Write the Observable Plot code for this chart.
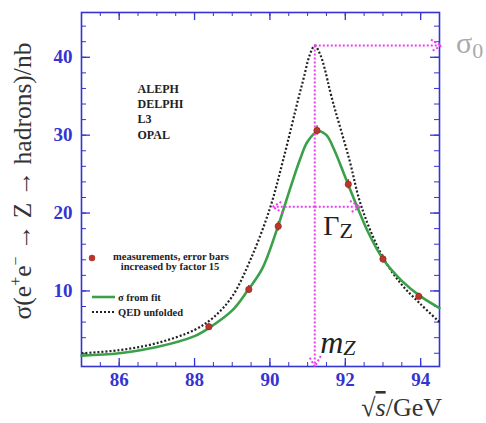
<!DOCTYPE html>
<html><head><meta charset="utf-8">
<script src="https://cdn.jsdelivr.net/npm/d3@7"></script>
<script src="https://cdn.jsdelivr.net/npm/@observablehq/plot@0.6"></script>
<style>body{margin:0;background:#fff;overflow:hidden}</style>
</head><body><div id="chart"></div>
<script>
// measurements (sqrt(s) in GeV, sigma in nb, error bars x15)
const measE     = [88.38, 89.44, 90.22, 91.25, 92.08, 93.0, 93.95];
const measSigma = [5.4, 10.2, 18.3, 30.6, 23.7, 14.1, 9.3];
const measErr   = [0.4, 0.5, 0.6, 0.6, 0.6, 0.5, 0.4];
// sigma from fit (green)
const fitE     = [85.0, 86.0, 87.0, 88.0, 88.4, 89.0, 89.4, 89.8, 90.2, 90.5, 90.8, 91.0, 91.28, 91.5, 91.7, 92.0, 92.3, 92.6, 93.0, 93.5, 94.0, 94.5];
const fitSigma = [1.7, 2.0, 2.8, 4.2, 5.3, 7.5, 10.0, 12.9, 18.1, 22.6, 26.9, 29.2, 30.5, 30.0, 28.2, 24.6, 21.0, 17.6, 14.1, 11.3, 9.3, 7.8];
// QED unfolded (black dotted)
const qedE     = [85.0, 86.0, 87.0, 88.0, 88.5, 89.0, 89.5, 90.0, 90.35, 90.75, 90.9, 91.05, 91.19, 91.33, 91.45, 91.63, 92.1, 92.43, 93.0, 93.5, 94.0, 94.5];
const qedSigma = [2.0, 2.4, 3.3, 5.0, 6.6, 9.3, 14.2, 20.6, 26.8, 34.6, 37.4, 40.2, 41.5, 40.4, 38.6, 35.0, 27.0, 20.8, 14.3, 10.8, 8.3, 6.0];
// annotation values
const mZ = 91.19, sigma0 = 41.5, halfMax = 20.8, gammaLo = 90.07, gammaHi = 92.40;
const xDomain = [85, 94.5], yDomain = [0.3, 45.75];
const xLabelTicks = [86, 88, 90, 92, 94];
const xMinorTicks = d3.range(85.5, 94.5, 0.5);
const yLabelTicks = [10, 20, 30, 40];
const yMinorTicks = d3.range(2, 45, 2);
const experiments = ["ALEPH", "DELPHI", "L3", "OPAL"];

const blue = "#3434d0", mag = "#f03cf0", green = "#3aa04a", red = "#b8362c";
const W = 486, H = 423, mL = 81, mR = 47, mT = 12, mB = 57;
const fw = W - mL - mR, fh = H - mT - mB;
const idx = d3.range(measE.length);
const fi = d3.range(fitE.length), qi = d3.range(qedE.length);
const dash = {strokeDasharray: "2,2", strokeLinecap: "butt"};

const plot = Plot.plot({
  width: W, height: H,
  marginLeft: mL, marginRight: mR, marginTop: mT, marginBottom: mB,
  x: {domain: xDomain},
  y: {domain: yDomain},
  style: {fontFamily: "Liberation Serif", background: "white", overflow: "visible"},
  marks: [
    // inward ticks on all four sides
    Plot.ruleX(xMinorTicks, {x: d => d, insetTop: fh - 4, stroke: blue}),
    Plot.ruleX(xMinorTicks, {x: d => d, insetBottom: fh - 4, stroke: blue}),
    Plot.ruleX(xLabelTicks, {x: d => d, insetTop: fh - 8, stroke: blue, strokeWidth: 1.3}),
    Plot.ruleX(xLabelTicks, {x: d => d, insetBottom: fh - 8, stroke: blue, strokeWidth: 1.3}),
    Plot.ruleY(yMinorTicks, {y: d => d, insetRight: fw - 5, stroke: blue}),
    Plot.ruleY(yMinorTicks, {y: d => d, insetLeft: fw - 5, stroke: blue}),
    Plot.ruleY(yLabelTicks, {y: d => d, insetRight: fw - 9, stroke: blue, strokeWidth: 1.3}),
    Plot.ruleY(yLabelTicks, {y: d => d, insetLeft: fw - 9, stroke: blue, strokeWidth: 1.3}),
    // tick labels
    Plot.axisX({anchor: "bottom", ticks: xLabelTicks, tickSize: 0, tickPadding: 6, label: null,
      fontSize: 19, fontWeight: "bold", color: blue, tickFormat: d3.format("d")}),
    Plot.axisY({anchor: "left", ticks: yLabelTicks, tickSize: 0, tickPadding: 9, label: null,
      fontSize: 19, fontWeight: "bold", color: blue, tickFormat: d3.format("d")}),
    Plot.frame({stroke: blue, strokeWidth: 1.6}),
    // curves
    Plot.line(qi, {x: i => qedE[i], y: i => qedSigma[i], curve: "catmull-rom",
      stroke: "#222", strokeWidth: 2.2, ...dash}),
    Plot.line(fi, {x: i => fitE[i], y: i => fitSigma[i], curve: "catmull-rom",
      stroke: green, strokeWidth: 2.6}),
    // annotation arrows
    Plot.arrow([0], {x1: () => mZ, y1: () => sigma0, x2: () => xDomain[1] + 0.05, y2: () => sigma0,
      stroke: mag, strokeWidth: 2, headLength: 9, ...dash}),
    Plot.arrow([0], {x1: () => mZ, y1: () => sigma0, x2: () => mZ, y2: () => yDomain[0],
      stroke: mag, strokeWidth: 2, headLength: 9, ...dash}),
    Plot.arrow([0], {x1: () => mZ, y1: () => halfMax, x2: () => gammaLo, y2: () => halfMax,
      stroke: mag, strokeWidth: 2, headLength: 9, ...dash}),
    Plot.arrow([0], {x1: () => mZ, y1: () => halfMax, x2: () => gammaHi, y2: () => halfMax,
      stroke: mag, strokeWidth: 2, headLength: 9, ...dash}),
    // measurements
    Plot.ruleX(idx, {x: i => measE[i], y1: i => measSigma[i] - measErr[i], y2: i => measSigma[i] + measErr[i],
      stroke: red, strokeWidth: 1.5}),
    Plot.dot(idx, {x: i => measE[i], y: i => measSigma[i], r: 3.2, fill: red, stroke: "#8a2a20", strokeWidth: 0.6}),
    // experiments list
    Plot.text([experiments.join("\n")], {frameAnchor: "top-left", dx: 56, dy: 69, lineAnchor: "top",
      textAnchor: "start", fontSize: 12, fontWeight: "bold", lineHeight: 1.29, fill: "#222"})
  ]
});
document.getElementById("chart").appendChild(plot);

const svg = d3.select(plot);
const sx = v => plot.scale("x").apply(v), sy = v => plot.scale("y").apply(v);

// legend
const lg = svg.append("g").attr("font-family", "Liberation Serif").attr("font-weight", "bold")
  .attr("font-size", 10.5).attr("fill", "#222").attr("text-anchor", "start");
lg.append("circle").attr("cx", 92).attr("cy", 258).attr("r", 3.2).attr("fill", red);
lg.append("text").attr("x", 171).attr("y", 260).attr("text-anchor", "middle").text("measurements, error bars");
lg.append("text").attr("x", 170).attr("y", 270).attr("text-anchor", "middle").text("increased by factor 15");
lg.append("line").attr("x1", 92).attr("x2", 115).attr("y1", 297).attr("y2", 297).attr("stroke", green).attr("stroke-width", 2.6);
lg.append("text").attr("x", 118).attr("y", 301).text("σ from fit");
lg.append("line").attr("x1", 92).attr("x2", 115).attr("y1", 312).attr("y2", 312).attr("stroke", "#222").attr("stroke-width", 2).attr("stroke-dasharray", "2,2");
lg.append("text").attr("x", 118).attr("y", 316).text("QED unfolded");

// annotation labels
const ann = svg.append("g").attr("font-family", "Liberation Serif").attr("fill", "#222").attr("text-anchor", "start");
const gt = ann.append("text").attr("x", sx(mZ) + 9).attr("y", sy(halfMax) + 29).attr("font-size", 28);
gt.append("tspan").text("Γ");
gt.append("tspan").attr("font-size", 22).attr("dy", 3).text("Z");
const mt = ann.append("text").attr("x", sx(mZ) + 6).attr("y", sy(yDomain[0]) - 13).attr("font-size", 32).attr("font-style", "italic");
mt.append("tspan").text("m");
mt.append("tspan").attr("font-size", 22).attr("dy", 2).text("Z");
const st = ann.append("text").attr("x", 456).attr("y", sy(sigma0) + 8).attr("font-size", 30).attr("fill", "#aaa");
st.append("tspan").text("σ");
st.append("tspan").attr("font-size", 22).attr("dy", 5).text("0");

// axis titles
const yt = svg.append("text").attr("transform", "translate(31,181) rotate(-90)")
  .attr("text-anchor", "middle").attr("font-family", "Liberation Serif").attr("font-size", 25.5).attr("fill", "#333");
yt.append("tspan").text("σ(e");
yt.append("tspan").attr("font-size", 16).attr("dy", -10).text("+");
yt.append("tspan").attr("dy", 10).text("e");
yt.append("tspan").attr("font-size", 16).attr("dy", -10).text("−");
yt.append("tspan").attr("dy", 10).text(" → Z → hadrons)/nb");

const xt = svg.append("text").attr("x", 442).attr("y", 416).attr("text-anchor", "end")
  .attr("font-family", "Liberation Serif").attr("font-size", 26).attr("fill", "#333");
xt.append("tspan").text("√");
xt.append("tspan").attr("font-style", "italic").attr("text-decoration", "overline").text("s");
xt.append("tspan").text("/GeV");
</script>
</body></html>
